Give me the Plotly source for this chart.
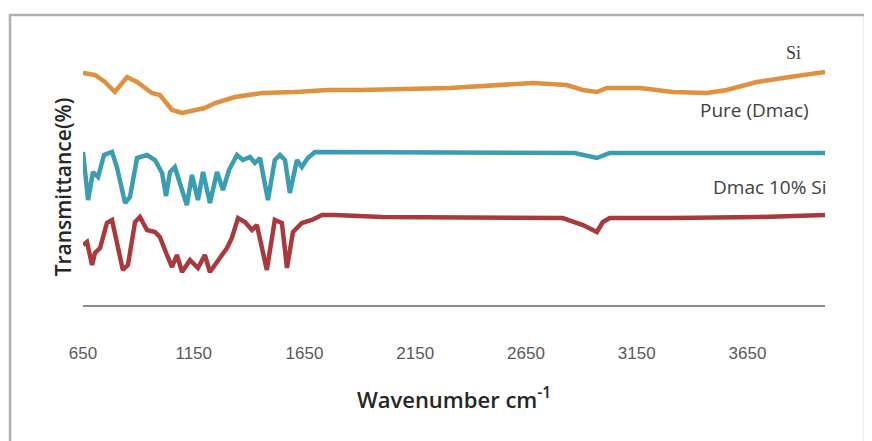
import plotly.graph_objects as go

# Wavenumber (cm-1) and transmittance (arbitrary stacked units)
si_x = [650, 704, 749, 794, 849, 894, 961, 997, 1052, 1097, 1200, 1246, 1336, 1458, 1607,
        1756, 1900, 2306, 2681, 2834, 2907, 2970, 3015, 3164, 3313, 3466, 3556, 3692, 3841, 4000]
si_y = [232, 230, 223, 213, 228, 223, 212, 210, 195, 192, 197, 202, 208, 212, 213,
        215, 215, 217, 222, 220, 215, 213, 217, 217, 213, 212, 215, 223, 228, 233]

pure_x = [650, 673, 695, 718, 745, 781, 803, 840, 862, 894, 939, 975, 1007, 1025, 1043,
          1065, 1097, 1119, 1142, 1169, 1192, 1223, 1255, 1282, 1309, 1345, 1372, 1404, 1426,
          1449, 1485, 1516, 1539, 1562, 1584, 1616, 1638, 1665, 1697, 1787, 2000, 2500, 2870,
          2970, 3028, 3300, 3700, 4000]
pure_y = [153, 105, 133, 128, 150, 153, 138, 102, 108, 147, 150, 145, 132, 109, 133,
          138, 115, 100, 130, 105, 133, 102, 133, 115, 135, 150, 145, 148, 142,
          147, 105, 145, 150, 145, 112, 145, 138, 147, 153, 153, 153, 153, 152,
          147, 152, 152, 152, 152]

dm_x = [650, 668, 691, 704, 727, 758, 781, 803, 830, 853, 885, 907, 939, 975, 997,
        1029, 1052, 1074, 1097, 1133, 1169, 1200, 1223, 1268, 1300, 1322, 1350, 1381, 1413,
        1435, 1480, 1516, 1548, 1571, 1598, 1638, 1683, 1729, 1787, 2000, 2500, 2816, 2907,
        2970, 2997, 3028, 3313, 3700, 4000]
dm_y = [60, 63, 40, 52, 57, 82, 85, 60, 35, 40, 83, 88, 75, 73, 68,
        50, 38, 50, 33, 45, 37, 50, 33, 47, 57, 67, 87, 83, 75,
        80, 35, 85, 82, 37, 73, 82, 85, 90, 90, 88, 88, 87, 80,
        73, 83, 87, 87, 88, 90]

x_ticks = [650, 1150, 1650, 2150, 2650, 3150, 3650]

fig = go.Figure()
fig.add_trace(go.Scatter(x=si_x, y=si_y, mode="lines", name="Si",
                         line=dict(color="#E0913F", width=4.5)))
fig.add_trace(go.Scatter(x=pure_x, y=pure_y, mode="lines", name="Pure (Dmac)",
                         line=dict(color="#3A9DB2", width=4.5)))
fig.add_trace(go.Scatter(x=dm_x, y=dm_y, mode="lines", name="Dmac 10% Si",
                         line=dict(color="#A83A3E", width=4.5)))

label_font = dict(family="Open Sans", size=19, color="#404040")
fig.add_annotation(x=3900, y=230, yshift=22, text="Si", showarrow=False, xanchor="right",
                   font=dict(family="Liberation Serif", size=18, color="#404040"))
fig.add_annotation(x=3935, y=195, text="Pure (Dmac)", showarrow=False, xanchor="right",
                   font=label_font)
fig.add_annotation(x=4000, xshift=4, y=118, text="Dmac 10% Si", showarrow=False,
                   xanchor="right", font=label_font)

# page body has an 8px margin; figure coordinates are page coordinates minus 8
L, T, PW, PH = 75, 61, 742, 236
fig.add_shape(type="rect", xref="paper", yref="paper",
              x0=(2 - L) / PW, x1=(857 - L) / PW,
              y0=(T + PH - 445) / PH, y1=(T + PH - 7) / PH,
              line=dict(color="#B0B0B0", width=2.5), layer="below")

fig.update_layout(
    width=864, height=433,
    margin=dict(l=L, r=864 - L - PW, t=T, b=433 - T - PH, autoexpand=False),
    paper_bgcolor="white", plot_bgcolor="white",
    showlegend=False,
    xaxis=dict(range=[650, 4000], tickvals=x_ticks, ticktext=[str(v) for v in x_ticks],
               showgrid=False, zeroline=False, showline=True, linecolor="#8C8C8C",
               linewidth=1.5, ticks="", ticklabelstandoff=32,
               tickfont=dict(family="Liberation Sans", size=17, color="#595959"),
               title=dict(text="Wavenumber cm<sup>-1</sup>", standoff=30,
                          font=dict(family="Open Sans", size=22, color="#262626", weight=600)),
               automargin=False),
    yaxis=dict(range=[0, PH], showticklabels=False, showgrid=False, zeroline=False,
               showline=False, ticks="",
               title=dict(text="Transmittance(%)", standoff=4,
                          font=dict(family="Open Sans", size=21, color="#262626", weight=600)),
               automargin=False),
)

fig.write_html("out.html")
